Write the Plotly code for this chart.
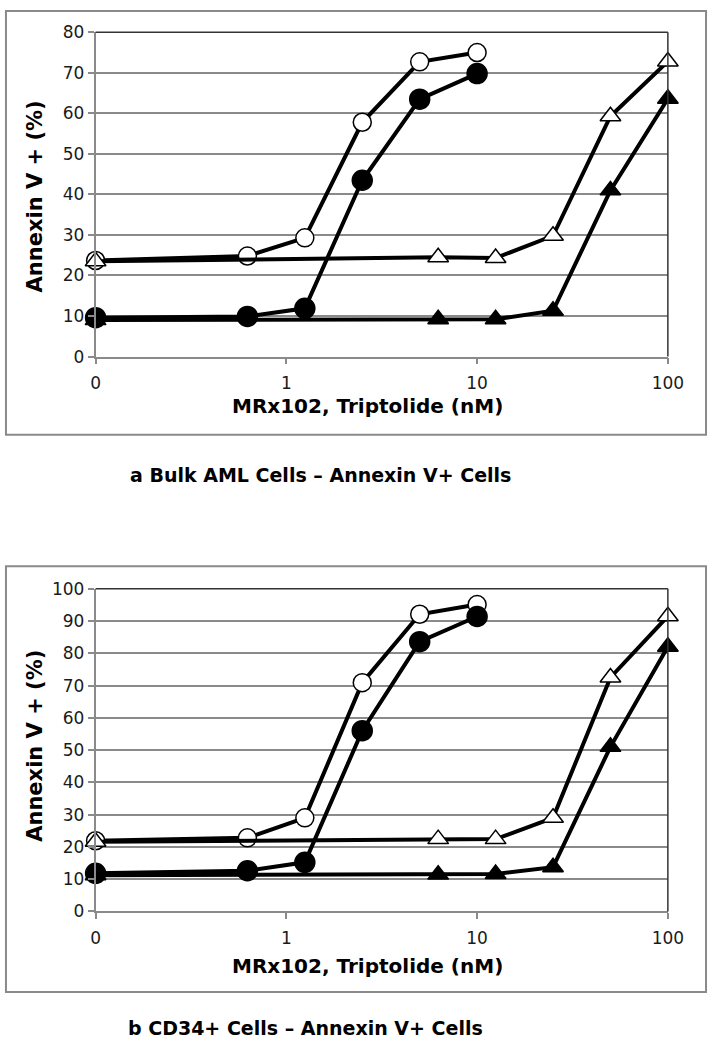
import plotly.graph_objects as go

W, H = 723, 1050

# ---------------- data ----------------
conc_circles = [0.1, 0.625, 1.25, 2.5, 5, 10]
conc_triangles = [0.1, 6.25, 12.5, 25, 50, 100]

# panel a: Bulk AML cells
a_open_circle = [23.7, 24.8, 29.3, 57.8, 72.7, 75.0]
a_filled_circle = [9.6, 9.9, 11.9, 43.5, 63.5, 69.8]
a_open_triangle = [23.5, 24.5, 24.3, 29.8, 59.3, 72.8]
a_filled_triangle = [9.0, 9.2, 9.2, 11.3, 41.0, 63.6]

# panel b: CD34+ cells
b_open_circle = [21.9, 22.8, 29.0, 70.9, 92.1, 95.1]
b_filled_circle = [11.8, 12.6, 15.2, 56.0, 83.6, 91.4]
b_open_triangle = [21.6, 22.4, 22.4, 29.0, 72.5, 91.5]
b_filled_triangle = [11.2, 11.4, 11.6, 13.7, 51.0, 82.0]

x_tickvals = [0.1, 1, 10, 100]
x_ticktext = ["0", "1", "10", "100"]
a_yticks = list(range(0, 81, 10))
b_yticks = list(range(0, 101, 10))

x_title = "MRx102, Triptolide (nM)"
y_title = "Annexin V + (%)"
caption_a = "a Bulk AML Cells – Annexin V+ Cells"
caption_b = "b CD34+ Cells – Annexin V+ Cells"


def px_x(x):
    return x / W


def px_y(y):
    return 1 - y / H


fig = go.Figure()

LINE_W = 4
series_style = [
    ("circle", "white", 18),
    ("circle", "black", 20),
    ("triangle-up", "white", 18),
    ("triangle-up", "black", 18),
]


def add_panel(xa, ya, xs_list, ys_list):
    for (sym, fill, size), xs, ys in zip(series_style, xs_list, ys_list):
        fig.add_trace(go.Scatter(
            x=xs, y=ys, mode="lines+markers", xaxis=xa, yaxis=ya,
            line=dict(color="black", width=LINE_W),
            marker=dict(symbol=sym, size=size, color=fill,
                        line=dict(color="black", width=1.5)),
            showlegend=False, cliponaxis=False,
        ))


add_panel("x", "y",
          [conc_circles, conc_circles, conc_triangles, conc_triangles],
          [a_open_circle, a_filled_circle, a_open_triangle, a_filled_triangle])
add_panel("x2", "y2",
          [conc_circles, conc_circles, conc_triangles, conc_triangles],
          [b_open_circle, b_filled_circle, b_open_triangle, b_filled_triangle])

GRID = "#8a8a8a"
tickfont = dict(family="DejaVu Sans, sans-serif", size=17, color="#1a1a1a")

xaxis_common = dict(
    type="log", range=[-1, 2], tickvals=x_tickvals, ticktext=x_ticktext,
    showgrid=False, zeroline=False, showline=True, linecolor=GRID, linewidth=1.5,
    ticks="outside", ticklen=6, tickcolor=GRID, tickwidth=1.5,
    tickfont=tickfont, ticklabelstandoff=4,
)
yaxis_common = dict(
    showgrid=True, gridcolor=GRID, gridwidth=1.5, zeroline=False,
    showline=True, linecolor=GRID, linewidth=1.5,
    ticks="outside", ticklen=6, tickcolor=GRID, tickwidth=1.5,
    tickfont=tickfont, dtick=10,
)

xd = [px_x(93.3), px_x(682.7)]
fig.update_layout(
    width=W, height=H, margin=dict(l=0, r=0, t=0, b=0),
    paper_bgcolor="white", plot_bgcolor="white",
    xaxis=dict(domain=xd, anchor="y", **xaxis_common),
    yaxis=dict(domain=[px_y(353.3), px_y(22.7)], anchor="x", range=[0, 80],
               tickvals=a_yticks, **yaxis_common),
    xaxis2=dict(domain=xd, anchor="y2", **xaxis_common),
    yaxis2=dict(domain=[px_y(918.9), px_y(590)], anchor="x2", range=[0, 100],
                tickvals=b_yticks, **yaxis_common),
)

shapes = []
# outer boxes
for top, bot in [(1, 433), (567, 1001)]:
    shapes.append(dict(type="rect", xref="paper", yref="paper",
                       x0=px_x(1), x1=px_x(722), y0=px_y(bot), y1=px_y(top),
                       line=dict(color="#8a8a8a", width=2)))
# plot-area top and right borders (dark)
for xr, yr in [("x domain", "y domain"), ("x2 domain", "y2 domain")]:
    shapes.append(dict(type="line", xref=xr, yref=yr, x0=0, x1=1, y0=1, y1=1,
                       line=dict(color="#333", width=1.5)))
    shapes.append(dict(type="line", xref=xr, yref=yr, x0=1, x1=1, y0=0, y1=1,
                       line=dict(color="#333", width=1.5)))
fig.update_layout(shapes=shapes)

xtitle_font = dict(family="DejaVu Sans, sans-serif", size=20, color="black")
ytitle_font = dict(family="DejaVu Sans, sans-serif", size=21, color="black")
cap_font = dict(family="DejaVu Sans, sans-serif", size=19, color="black")

ann = []
for ycx, xty in [(190, 404), (750, 975)]:
    ann.append(dict(text="<b>%s</b>" % y_title, xref="paper", yref="paper",
                    x=px_x(31), y=px_y(ycx), showarrow=False, textangle=-90,
                    font=ytitle_font, xanchor="center", yanchor="middle"))
    ann.append(dict(text="<b>%s</b>" % x_title, xref="paper", yref="paper",
                    x=px_x(373), y=px_y(xty), showarrow=False,
                    font=xtitle_font, xanchor="center", yanchor="middle"))
ann.append(dict(text="<b>%s</b>" % caption_a, xref="paper", yref="paper",
                x=px_x(325), y=px_y(474), showarrow=False, font=cap_font,
                xanchor="center", yanchor="middle"))
ann.append(dict(text="<b>%s</b>" % caption_b, xref="paper", yref="paper",
                x=px_x(309), y=px_y(1038), showarrow=False, font=cap_font,
                xanchor="center", yanchor="middle"))
fig.update_layout(annotations=ann)

fig.write_html(
    "out.html",
    config={"displayModeBar": False},
    post_script="document.body.style.margin='0';document.body.style.overflow='hidden';",
)
